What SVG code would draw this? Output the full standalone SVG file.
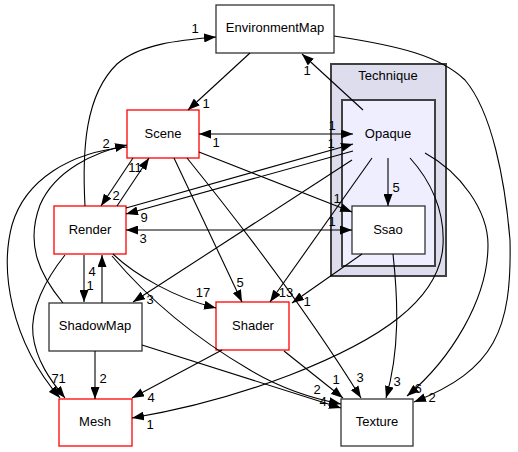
<svg xmlns="http://www.w3.org/2000/svg" width="518" height="452" viewBox="0 0 518 452">
<style>
text{font-family:"Liberation Sans",Arial,sans-serif;font-size:13px;fill:#000}
.n{text-anchor:middle}
.l{text-anchor:middle}
.box{fill:#fff;stroke:#333;stroke-width:1.3}
.red{fill:#fff;stroke:#ff0000;stroke-width:1.3}
.e{fill:none;stroke:#000;stroke-width:1.1;marker-end:url(#ah)}
.b{marker-start:url(#ah)}
</style>
<defs>
<marker id="ah" markerUnits="userSpaceOnUse" viewBox="0 0 12 9" refX="12" refY="4.5" markerWidth="12" markerHeight="9" orient="auto-start-reverse">
<path d="M0,0 L12,4.5 L0,9 z" fill="#000"/>
</marker>
</defs>
<rect width="518" height="452" fill="#fff"/>
<g id="cluster_Technique">
<rect x="331" y="64" width="115" height="212" fill="#ddddee" stroke="#404040" stroke-width="2"/>
<text class="n" x="388" y="80">Technique</text>
</g>
<g id="node_Opaque">
<rect x="342" y="100" width="93" height="166" fill="#eeeeff" stroke="#404040" stroke-width="2"/>
<text class="n" x="388" y="138">Opaque</text>
</g>
<g id="node_EnvironmentMap">
<rect class="box" x="216" y="5" width="118" height="48"/>
<text class="n" x="275" y="32">EnvironmentMap</text>
</g>
<g id="node_Scene">
<rect class="red" x="127" y="110" width="72" height="48"/>
<text class="n" x="163" y="138">Scene</text>
</g>
<g id="node_Ssao">
<rect class="box" x="352" y="206" width="73" height="48"/>
<text class="n" x="388" y="234">Ssao</text>
</g>
<g id="node_Render">
<rect class="red" x="54" y="206" width="72" height="48"/>
<text class="n" x="90" y="234">Render</text>
</g>
<g id="node_ShadowMap">
<rect class="box" x="49" y="303" width="93" height="48"/>
<text class="n" x="95" y="330">ShadowMap</text>
</g>
<g id="node_Shader">
<rect class="red" x="216" y="302" width="73" height="48"/>
<text class="n" x="253" y="330">Shader</text>
</g>
<g id="node_Mesh">
<rect class="red" x="59" y="399" width="73" height="47"/>
<text class="n" x="95" y="426">Mesh</text>
</g>
<g id="node_Texture">
<rect class="box" x="341" y="399" width="72" height="47"/>
<text class="n" x="377" y="426">Texture</text>
</g>
<g id="connectors">
<path class="e" d="M85,206 C82,150 85,95 117,64 C140,44 180,40 216,37"/>
<path class="e" d="M250,53 L188,110"/>
<path class="e" d="M334,36 C400,46 440,56 465,80 C492,112 505,180 510,240 C512,330 495,370 414,402"/>
<path class="e b" d="M199,134 L353,134"/>
<path class="e" d="M363,110 L302,54"/>
<path class="e" d="M199,152 L352,212"/>
<path class="e b" d="M126,230 L352,230"/>
<path class="e" d="M126,208 L353,144"/>
<path class="e" d="M353,151 L126,214"/>
<path class="e" d="M133,158 L101,206"/>
<path class="e" d="M117,206 L149,158"/>
<path class="e" d="M63,303 C40,275 25,245 40,205 C55,170 95,152 127,145"/>
<path class="e" d="M127,147 C70,152 25,180 12,225 C0,270 10,340 60,398"/>
<path class="e" d="M65,255 C45,280 30,310 33,335 C36,360 50,380 65,398"/>
<path class="e" d="M84,255 L84,302"/>
<path class="e" d="M102,303 L102,255"/>
<path class="e" d="M95,351 L95,399"/>
<path class="e" d="M352,160 L133,302"/>
<path class="e" d="M113,254 C135,275 175,298 216,308"/>
<path class="e" d="M112,256 C145,295 190,335 250,370 C280,388 310,398 341,404"/>
<path class="e" d="M142,345 L341,408"/>
<path class="e" d="M222,350 L132,398"/>
<path class="e" d="M284,351 L343,398"/>
<path class="e" d="M174,158 L242,302"/>
<path class="e" d="M187,158 C225,205 300,300 361,398"/>
<path class="e" d="M388,158 L388,206"/>
<path class="e" d="M372,158 L270,302"/>
<path class="e" d="M362,254 L292,303"/>
<path class="e" d="M393,254 C398,300 400,350 386,398"/>
<path class="e" d="M425,153 C460,172 488,210 488,245 C488,300 450,360 407,396"/>
<path class="e" d="M410,158 C430,180 445,210 443,245 C440,300 380,340 290,375 C230,398 180,410 132,418"/>
</g>
<g id="labels">
<text class="l" x="195" y="33">1</text>
<text class="l" x="206" y="108">1</text>
<text class="l" x="307" y="75">1</text>
<text class="l" x="216" y="147">1</text>
<text class="l" x="332" y="130">1</text>
<text class="l" x="331" y="148">1</text>
<text class="l" x="106" y="148">2</text>
<text class="l" x="135" y="172">11</text>
<text class="l" x="116" y="200">2</text>
<text class="l" x="144" y="222">9</text>
<text class="l" x="143" y="243">3</text>
<text class="l" x="337" y="203">1</text>
<text class="l" x="332" y="226">1</text>
<text class="l" x="396" y="192">5</text>
<text class="l" x="92" y="276">4</text>
<text class="l" x="90" y="290">1</text>
<text class="l" x="150" y="304">3</text>
<text class="l" x="203" y="297">17</text>
<text class="l" x="240" y="287">5</text>
<text class="l" x="286" y="297">13</text>
<text class="l" x="307" y="306">1</text>
<text class="l" x="103" y="383">2</text>
<text class="l" x="55" y="383">7</text>
<text class="l" x="62" y="383">1</text>
<text class="l" x="151" y="402">4</text>
<text class="l" x="150" y="429">1</text>
<text class="l" x="336" y="384">1</text>
<text class="l" x="360" y="382">3</text>
<text class="l" x="397" y="386">3</text>
<text class="l" x="418" y="393">6</text>
<text class="l" x="432" y="402">2</text>
<text class="l" x="317" y="394">2</text>
<text class="l" x="323" y="406">4</text>
</g>
</svg>
